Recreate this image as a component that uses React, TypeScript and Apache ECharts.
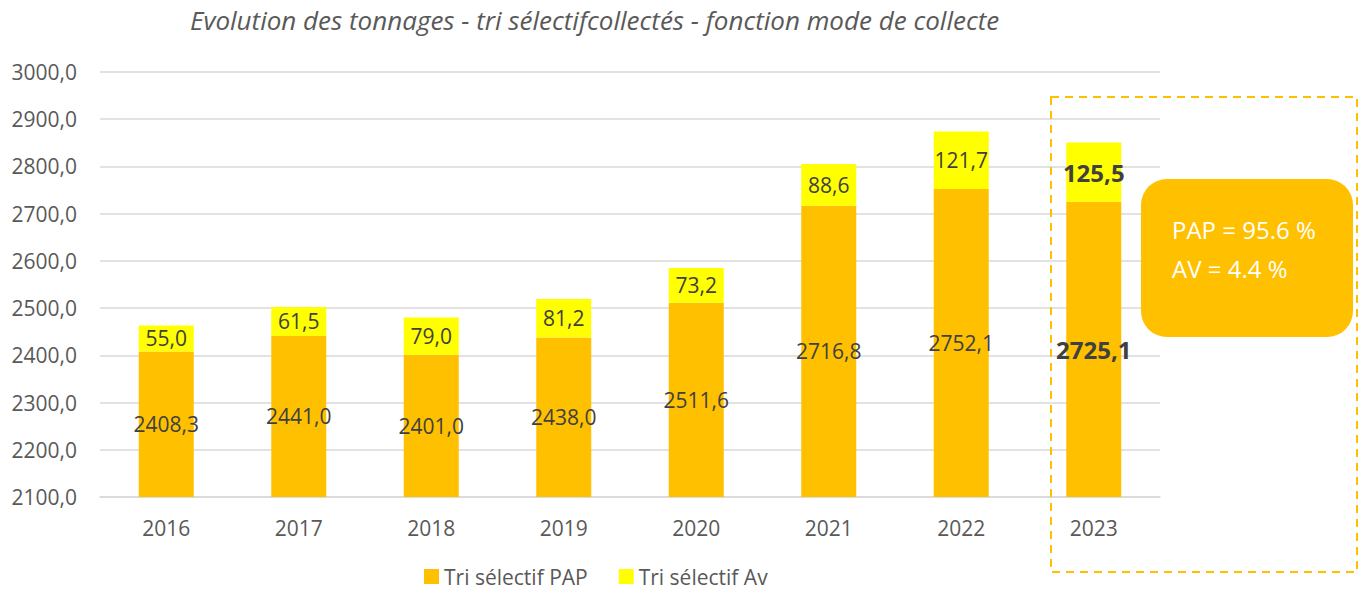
import React, { useEffect, useRef } from "react";
import * as echarts from "echarts";

const years = ["2016", "2017", "2018", "2019", "2020", "2021", "2022", "2023"];
const papValues = [2408.3, 2441.0, 2401.0, 2438.0, 2511.6, 2716.8, 2752.1, 2725.1];
const avValues = [55.0, 61.5, 79.0, 81.2, 73.2, 88.6, 121.7, 125.5];
const titleText = "Evolution des tonnages - tri sélectifcollectés - fonction mode de collecte";
const seriesNames = ["Tri sélectif PAP", "Tri sélectif Av"];
const boxLines = ["PAP = 95.6 %", "AV = 4.4 %"];

const FONT = "Open Sans";
const fmt = (v: number) => v.toFixed(1).replace(".", ",");

export default function App() {
  const ref = useRef<HTMLDivElement>(null);
  useEffect(() => {
    if (!ref.current) return;
    const chart = echarts.init(ref.current, null, { renderer: "svg" });
    const hl = (vals: number[]) =>
      vals.map((v, i) =>
        i === vals.length - 1
          ? { value: v, label: { fontWeight: "bold", fontSize: 24, color: "#404040" } }
          : v
      );
    chart.setOption({
      animation: false,
      textStyle: { fontFamily: FONT },
      title: {
        text: titleText,
        left: 190,
        top: 7,
        padding: 0,
        textStyle: { fontFamily: FONT, fontStyle: "italic", fontWeight: "normal", fontSize: 26, color: "#595959" },
      },
      grid: { left: 100, right: 199, top: 72, bottom: 92, containLabel: false },
      legend: {
        left: 424,
        top: 566,
        padding: 0,
        itemWidth: 15,
        itemHeight: 15,
        itemGap: 31,
        icon: "rect",
        textStyle: { fontFamily: FONT, fontSize: 21, color: "#595959" },
        data: seriesNames,
      },
      xAxis: {
        type: "category",
        data: years,
        axisLine: { lineStyle: { color: "#d9d9d9", width: 1.5 } },
        axisTick: { show: false },
        axisLabel: { color: "#595959", fontSize: 21, margin: 20, fontFamily: FONT },
      },
      yAxis: {
        type: "value",
        min: 2100,
        max: 3000,
        interval: 100,
        axisLine: { show: false },
        axisTick: { show: false },
        splitLine: { lineStyle: { color: "#d9d9d9", width: 1.5 } },
        axisLabel: { color: "#595959", fontSize: 21, margin: 23, fontFamily: FONT, formatter: (v: number) => fmt(v) },
      },
      series: [
        {
          name: seriesNames[0],
          type: "bar",
          stack: "total",
          barWidth: 55,
          itemStyle: { color: "#FFC000" },
          label: { show: true, position: "inside", color: "#404040", fontSize: 21, fontFamily: FONT, formatter: (p: any) => fmt(p.value) },
          data: hl(papValues),
        },
        {
          name: seriesNames[1],
          type: "bar",
          stack: "total",
          barWidth: 55,
          itemStyle: { color: "#FFFF00" },
          label: { show: true, position: "inside", color: "#404040", fontSize: 21, fontFamily: FONT, formatter: (p: any) => fmt(p.value) },
          data: hl(avValues),
        },
      ],
      graphic: [
        {
          type: "rect",
          shape: { x: 1051, y: 97, width: 306, height: 475 },
          style: { fill: "none", stroke: "#FFC000", lineWidth: 2, lineDash: [8, 6] },
          z: 10,
        },
        {
          type: "rect",
          shape: { x: 1141, y: 179, width: 212, height: 158, r: 26 },
          style: { fill: "#FFC000" },
          z: 10,
        },
        {
          type: "text",
          x: 1172,
          y: 229,
          style: { text: boxLines[0], fill: "#ffffff", fontSize: 24, fontFamily: FONT, verticalAlign: "middle" },
          z: 11,
        },
        {
          type: "text",
          x: 1172,
          y: 268,
          style: { text: boxLines[1], fill: "#ffffff", fontSize: 24, fontFamily: FONT, verticalAlign: "middle" },
          z: 11,
        },
      ],
    });
    return () => chart.dispose();
  }, []);
  return (
    <div
      ref={ref}
      style={{ position: "fixed", left: 0, top: 0, width: 1359, height: 589, background: "#fff" }}
    />
  );
}
